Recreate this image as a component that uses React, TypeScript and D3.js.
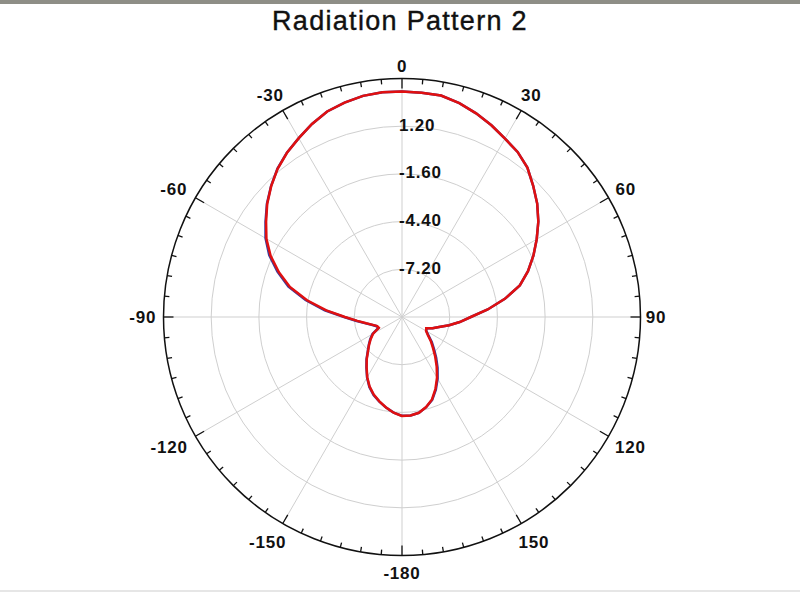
import React from "react";
import * as d3 from "d3";

const TITLE = "Radiation Pattern 2";

// angle (deg, clockwise from top) of each sample
const angles = [
  -180, -175, -170, -165, -160, -155, -150, -145, -140, -135, -130, -125,
  -120, -115, -110, -105, -100, -95, -90, -85, -80, -75, -70, -65,
  -60, -55, -50, -45, -40, -35, -30, -25, -20, -15, -10, -5,
  0, 5, 10, 15, 20, 25, 30, 35, 40, 45, 50, 55,
  60, 65, 70, 75, 80, 85, 90, 95, 100, 105, 110, 115,
  120, 125, 130, 135, 140, 145, 150, 155, 160, 165, 170, 175,
];

// red trace, dB
const redValues = [
  -4.19, -4.36, -4.61, -4.87, -5.15, -5.5, -5.92, -6.38, -6.78, -7.18, -7.48, -7.76,
  -8.04, -8.5, -8.45, -8.22, -7.87, -7.37, -6.65, -5.54, -4.34, -3.19, -2.31, -1.49,
  -0.81, -0.26, 0.33, 0.86, 1.36, 1.77, 2.12, 2.5, 2.84, 3.03, 3.18, 3.24,
  3.24, 3.22, 3.2, 3.0, 2.72, 2.42, 2.09, 1.83, 1.45, 0.89, 0.36, -0.23,
  -0.87, -1.49, -2.13, -2.84, -3.87, -4.95, -5.96, -6.6, -7.19, -7.75, -8.09, -8.43,
  -8.37, -8.15, -7.79, -7.43, -6.97, -6.45, -5.89, -5.35, -4.85, -4.53, -4.29, -4.2,
];

// blue trace, dB (almost hidden under the red one)
const blueValues = [
  -4.2, -4.37, -4.6, -4.86, -5.12, -5.47, -5.9, -6.36, -6.76, -7.16, -7.46, -7.72,
  -8.0, -8.46, -8.42, -8.2, -7.84, -7.33, -6.6, -5.45, -4.25, -3.1, -2.22, -1.4,
  -0.75, -0.22, 0.35, 0.87, 1.37, 1.78, 2.12, 2.5, 2.84, 3.03, 3.18, 3.24,
  3.24, 3.22, 3.2, 3.0, 2.72, 2.42, 2.09, 1.83, 1.45, 0.89, 0.36, -0.23,
  -0.87, -1.49, -2.13, -2.84, -3.87, -4.95, -5.96, -6.6, -7.19, -7.75, -8.09, -8.43,
  -8.35, -8.1, -7.72, -7.35, -6.88, -6.36, -5.82, -5.3, -4.82, -4.52, -4.29, -4.2,
];

const ringValues = [-7.2, -4.4, -1.6, 1.2];
const ringLabels = ["-7.20", "-4.40", "-1.60", "1.20"];
const angleLabelValues = [0, 30, 60, 90, 120, 150, 180, 210, 240, 270, 300, 330];
const angleLabels = ["0", "30", "60", "90", "120", "150", "-180", "-150", "-120", "-90", "-60", "-30"];
const tickAngles = d3.range(0, 360, 5);
const R_MIN = -10;
const R_MAX = 4;

const W = 800;
const H = 597;
const CX = 402;
const CY = 317;
const R = 238.5;
const FONT = "Arial, 'Liberation Sans', Helvetica, sans-serif";

export default function App() {
  const r = d3.scaleLinear().domain([R_MIN, R_MAX]).range([0, R]);
  const rad = (a: number) => (a * Math.PI) / 180;

  const line = d3
    .lineRadial<{ a: number; v: number }>()
    .angle((d) => rad(d.a))
    .radius((d) => r(d.v))
    .curve(d3.curveLinearClosed);

  const red = angles.map((a, i) => ({ a, v: redValues[i] }));
  const blue = angles.map((a, i) => ({ a, v: blueValues[i] }));

  const gridColor = "#cfcfcf";

  return (
    <svg
      width={W}
      height={H}
      viewBox={`0 0 ${W} ${H}`}
      style={{ position: "absolute", left: 0, top: 0, background: "#fff" }}
    >
      <rect x={0} y={0} width={W} height={H} fill="#ffffff" />
      <rect x={0} y={0} width={W} height={4} fill="#8e8e86" />
      <line x1={0} x2={W} y1={591} y2={591} stroke="#e6e6e6" strokeWidth={2} />

      <text
        x={400}
        y={30}
        textAnchor="middle"
        fontFamily={FONT}
        fontSize={27}
        letterSpacing={1.3}
        fill="#111"
        stroke="#111"
        strokeWidth={0.4}
      >
        {TITLE}
      </text>

      <g transform={`translate(${CX},${CY})`}>
        {/* rings */}
        {ringValues.map((v) => (
          <circle key={v} r={r(v)} fill="none" stroke={gridColor} strokeWidth={1} />
        ))}
        {/* spokes */}
        {angleLabelValues.map((a) => (
          <line
            key={a}
            x1={0}
            y1={0}
            x2={R * Math.sin(rad(a))}
            y2={-R * Math.cos(rad(a))}
            stroke={gridColor}
            strokeWidth={1}
          />
        ))}
        {/* outer circle */}
        <circle r={R} fill="none" stroke="#111" strokeWidth={1.5} />
        {/* ticks */}
        {tickAngles.map((a) => {
          const len = a % 30 === 0 ? 10 : 5;
          const s = Math.sin(rad(a));
          const c = Math.cos(rad(a));
          return (
            <line
              key={a}
              x1={R * s}
              y1={-R * c}
              x2={(R - len) * s}
              y2={-(R - len) * c}
              stroke="#111"
              strokeWidth={1.3}
            />
          );
        })}
        {/* angle labels */}
        {angleLabelValues.map((a, i) => {
          const s = Math.sin(rad(a));
          const c = Math.cos(rad(a));
          const label = angleLabels[i];
          const w = label.length * 10.5;
          const h = 15;
          const diag = Math.abs(s * c) * 10;
          const extra = c < 0 ? -c * 5 : 0;
          const x = (R + 5 + diag) * s + (w / 2) * s;
          const y = -(R + 5 + diag) * c - (h / 2) * c + extra;
          return (
            <text
              key={a}
              x={x}
              y={y}
              textAnchor="middle"
              dominantBaseline="central"
              fontFamily={FONT}
              fontWeight="bold"
              fontSize={17}
              letterSpacing={0.8}
              fill="#111"
            >
              {label}
            </text>
          );
        })}
        {/* ring labels */}
        {ringValues.map((v, i) => (
          <text
            key={v}
            x={-3}
            y={-r(v) - 1}
            dominantBaseline="central"
            fontFamily={FONT}
            fontWeight="bold"
            fontSize={17}
            letterSpacing={0.8}
            fill="#111"
          >
            {ringLabels[i]}
          </text>
        ))}
        {/* traces */}
        <path d={line(blue) || ""} fill="none" stroke="#3a3a9c" strokeWidth={2.5} />
        <path d={line(red) || ""} fill="none" stroke="#e01010" strokeWidth={2.5} />
      </g>
    </svg>
  );
}
